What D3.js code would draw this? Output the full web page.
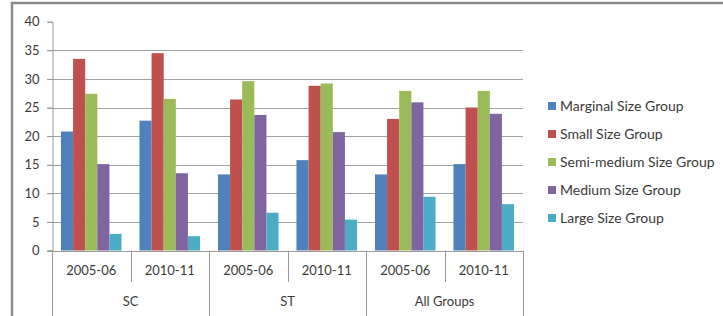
<!DOCTYPE html>
<html>
<head>
<meta charset="utf-8">
<script src="https://cdn.jsdelivr.net/npm/d3@7"></script>
<style>
  body { margin: 0; background: #fff; }
  svg text { font-family: Lato, "Liberation Sans", sans-serif; fill: #3a3a3a; }
</style>
</head>
<body>
<svg id="chart" width="723" height="316"></svg>
<script>
// categories (two level x axis)
const years = ["2005-06", "2010-11", "2005-06", "2010-11", "2005-06", "2010-11"];
const groups = ["SC", "ST", "All Groups"];
const seriesNames = ["Marginal Size Group", "Small Size Group", "Semi-medium Size Group", "Medium Size Group", "Large Size Group"];

// values
const marginal = [20.8, 22.7, 13.3, 15.8, 13.3, 15.1];
const small = [33.5, 34.5, 26.4, 28.8, 23.0, 25.0];
const semiMedium = [27.4, 26.5, 29.6, 29.2, 27.9, 27.9];
const medium = [15.1, 13.5, 23.7, 20.7, 25.9, 23.9];
const large = [2.9, 2.5, 6.6, 5.4, 9.4, 8.1];

const yTicks = [0, 5, 10, 15, 20, 25, 30, 35, 40];
const colors = ["#4f81bd", "#c0504d", "#9bbb59", "#8064a2", "#4bacc6"];

const allSeries = [marginal, small, semiMedium, medium, large];

const svg = d3.select("#chart");

// outer frame
svg.append("path")
    .attr("d", "M12,330 L12,3 L740,3")
    .attr("fill", "none")
    .attr("stroke", "#8a8a8a")
    .attr("stroke-width", 2.5);

const plot = { left: 52, right: 523, top: 21.7, bottom: 250.5 };

const y = d3.scaleLinear().domain([0, 40]).range([plot.bottom, plot.top]);

const idx = d3.range(years.length);
const x0 = d3.scaleBand().domain(idx).range([plot.left, plot.right]).padding(0);
const x1 = d3.scaleBand().domain(d3.range(seriesNames.length))
    .range([0, x0.bandwidth()]).paddingInner(0).paddingOuter(0.74);

// gridlines (no line at the top value)
svg.append("g")
    .selectAll("line")
    .data(yTicks.filter(d => d > 0 && d < 40))
    .join("line")
    .attr("x1", plot.left - 5)
    .attr("x2", plot.right)
    .attr("y1", d => Math.round(y(d)) + 0.5)
    .attr("y2", d => Math.round(y(d)) + 0.5)
    .attr("stroke", "#a0a0a0")
    .attr("stroke-width", 1);

// y axis
const yAxis = d3.axisLeft(y).tickValues(yTicks).tickSize(5).tickPadding(8);
const yg = svg.append("g")
    .attr("transform", `translate(${plot.left + 0.5},0)`)
    .call(yAxis);
yg.select(".domain").attr("stroke", "#9a9a9a");
yg.selectAll(".tick line").attr("stroke", "#9a9a9a");
yg.selectAll(".tick text")
    .attr("font-size", 13)
    .attr("font-family", "Lato, sans-serif")
    .attr("fill", "#3a3a3a");

// bars
const cat = svg.append("g")
    .selectAll("g")
    .data(idx)
    .join("g")
    .attr("transform", i => `translate(${x0(i)},0)`);

cat.selectAll("rect")
    .data(i => allSeries.map((s, k) => ({ k, v: s[i] })))
    .join("rect")
    .attr("x", d => x1(d.k))
    .attr("width", x1.bandwidth())
    .attr("y", d => y(d.v))
    .attr("height", d => y(0) - y(d.v))
    .attr("fill", d => colors[d.k]);

// x axis baseline
svg.append("line")
    .attr("x1", plot.left - 5).attr("x2", plot.right)
    .attr("y1", Math.round(y(0)) + 0.5).attr("y2", Math.round(y(0)) + 0.5)
    .attr("stroke", "#9a9a9a");

// category dividers: short between years, long between groups
const edges = d3.range(years.length + 1);
svg.append("g")
    .selectAll("line")
    .data(edges)
    .join("line")
    .attr("x1", i => Math.round(plot.left + i * x0.step()) + 0.5)
    .attr("x2", i => Math.round(plot.left + i * x0.step()) + 0.5)
    .attr("y1", y(0))
    .attr("y2", i => i % 2 === 0 ? 316 : 282)
    .attr("stroke", "#9a9a9a");

// year labels
svg.append("g")
    .selectAll("text")
    .data(idx)
    .join("text")
    .attr("x", i => x0(i) + x0.bandwidth() / 2)
    .attr("y", 275)
    .attr("text-anchor", "middle")
    .attr("font-size", 13)
    .text(i => years[i]);

// group labels
svg.append("g")
    .selectAll("text")
    .data(groups)
    .join("text")
    .attr("x", (g, j) => x0(j * 2) + x0.bandwidth())
    .attr("y", 306)
    .attr("text-anchor", "middle")
    .attr("font-size", 13)
    .text(g => g);

// legend
const legend = svg.append("g")
    .selectAll("g")
    .data(seriesNames)
    .join("g")
    .attr("transform", (d, k) => `translate(548,${106 + k * 28})`);

legend.append("rect")
    .attr("x", 0).attr("y", -4)
    .attr("width", 8).attr("height", 8)
    .attr("fill", (d, k) => colors[k]);

legend.append("text")
    .attr("x", 12)
    .attr("y", 5)
    .attr("font-size", 14)
    .text(d => d);
</script>
</body>
</html>
